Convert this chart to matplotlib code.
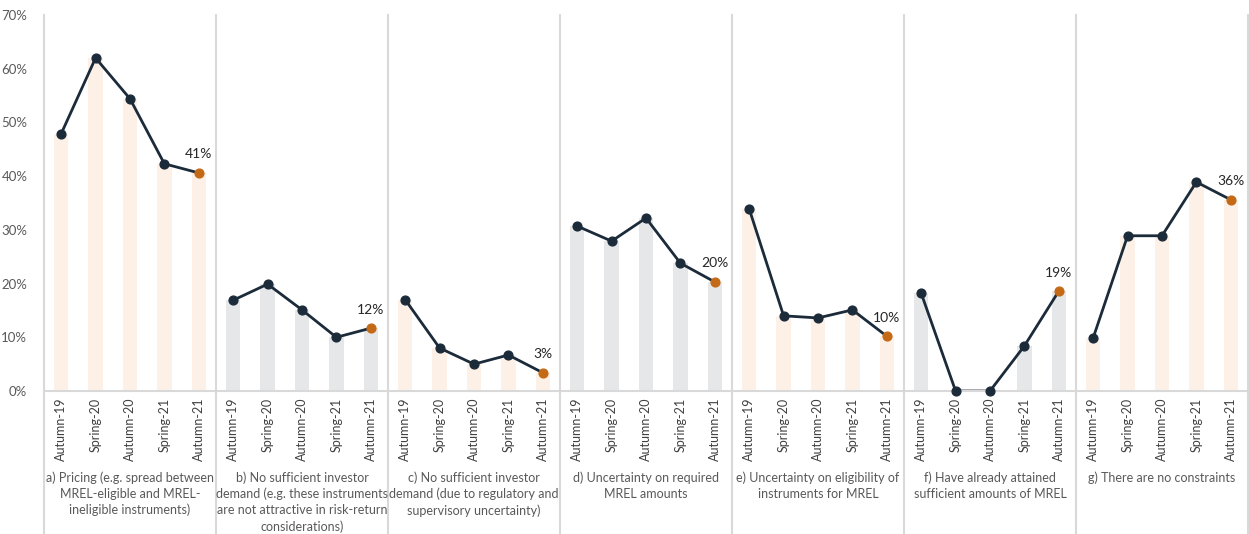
import numpy as np
import matplotlib.pyplot as plt
from matplotlib.transforms import blended_transform_factory

plt.rcParams['font.family'] = ['Lato', 'DejaVu Sans']

periods = ['Autumn-19', 'Spring-20', 'Autumn-20', 'Spring-21', 'Autumn-21']
groups = [
    'a) Pricing (e.g. spread between\nMREL-eligible and MREL-\nineligible instruments)',
    'b) No sufficient investor\ndemand (e.g. these instruments\nare not attractive in risk-return\nconsiderations)',
    'c) No sufficient investor\ndemand (due to regulatory and\nsupervisory uncertainty)',
    'd) Uncertainty on required\nMREL amounts',
    'e) Uncertainty on eligibility of\ninstruments for MREL',
    'f) Have already attained\nsufficient amounts of MREL',
    'g) There are no constraints',
]
pricing = [47.9, 62.0, 54.4, 42.3, 40.6]
demand_rr = [16.9, 19.9, 15.1, 10.0, 11.7]
demand_reg = [17.0, 8.0, 5.0, 6.7, 3.4]
unc_amounts = [30.7, 27.9, 32.2, 23.8, 20.3]
unc_elig = [33.9, 14.0, 13.6, 15.1, 10.2]
attained = [18.2, 0.0, 0.0, 8.4, 18.6]
no_constraints = [9.9, 28.9, 28.9, 38.9, 35.6]
series = [pricing, demand_rr, demand_reg, unc_amounts, unc_elig, attained, no_constraints]

BAR_ORANGE = '#FDF1E7'
BAR_GREY = '#E6E7E9'
LINE = '#1C2B3A'
DOT_LAST = '#C46A17'
SEP = '#D9D9D9'
TXT = '#595959'

fig = plt.figure(figsize=(12.49, 5.34), dpi=100)
ax = fig.add_axes([44/1249, 1-391/534, 1204/1249, 376/534])

n = len(periods)
for g, vals in enumerate(series):
    x = np.arange(n) + g * n
    col = BAR_ORANGE if g % 2 == 0 else BAR_GREY
    ax.bar(x, vals, width=0.42, color=col, zorder=1)
    ax.plot(x, vals, color=LINE, lw=2, zorder=2)
    ax.scatter(x[:-1], vals[:-1], s=40, color=LINE, zorder=3, clip_on=False)
    ax.scatter(x[-1:], vals[-1:], s=40, color=DOT_LAST, zorder=3)
    ax.annotate('%d%%' % round(vals[-1]), (x[-1], vals[-1]), xytext=(0, 9),
                textcoords='offset points', ha='center', va='bottom',
                fontsize=10, color='#262626')

ax.set_xlim(-0.5, len(series) * n - 0.5)
ax.set_ylim(0, 70)
ax.set_yticks(np.arange(0, 71, 10))
ax.set_yticklabels(['%d%%' % v for v in range(0, 71, 10)], fontsize=9.5, color=TXT)
ax.set_xticks(np.arange(len(series) * n))
ax.set_xticklabels(periods * len(series), rotation=90, fontsize=9, color='#404040')
ax.tick_params(axis='x', length=0, pad=5)
ax.tick_params(axis='y', length=0, pad=12)
for s in ['top', 'right', 'left']:
    ax.spines[s].set_visible(False)
ax.spines['bottom'].set_color(SEP)
ax.spines['bottom'].set_linewidth(1.5)

trans = blended_transform_factory(ax.transData, fig.transFigure)
for g in range(len(series) + 1):
    xb = g * n - 0.5
    ax.plot([xb, xb], [0, 1 - 15/534], transform=trans, color=SEP, lw=1.5,
            clip_on=False, zorder=0)

for g, label in enumerate(groups):
    ax.text(g * n + 2, 1 - 471/534, label, transform=trans, ha='center', va='top',
            fontsize=9, color=TXT, linespacing=1.4)

fig.savefig('out.png', dpi=100)
